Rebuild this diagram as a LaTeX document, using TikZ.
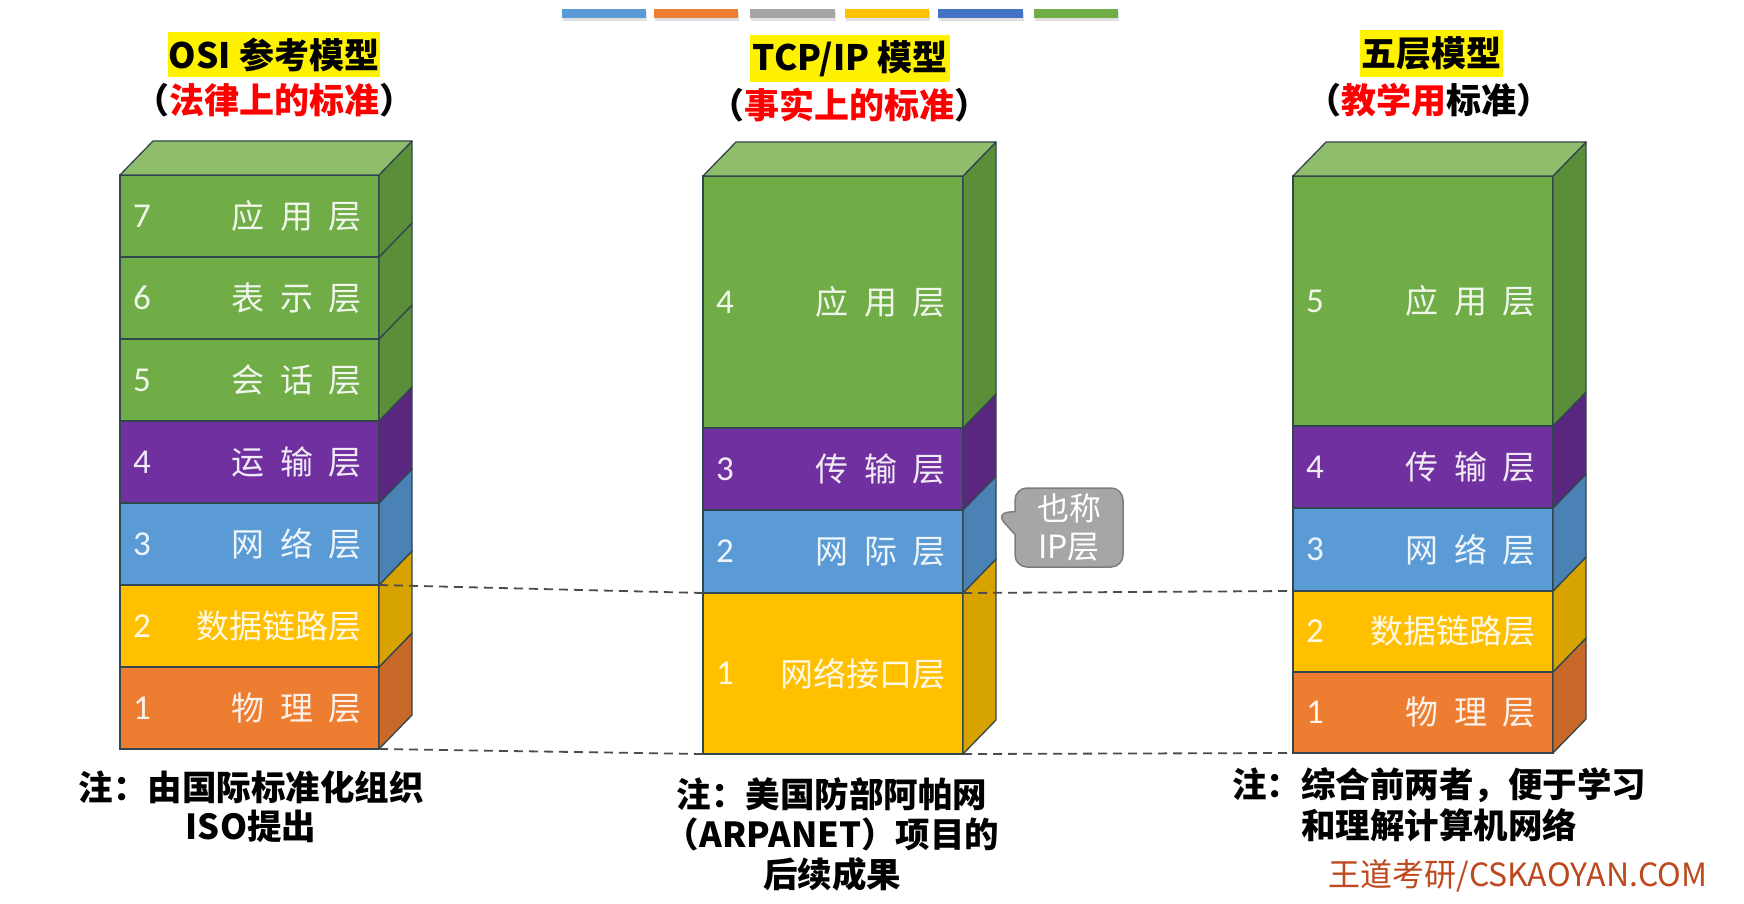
\documentclass[tikz,border=0pt]{standalone}
\usepackage{fontspec}
\setmainfont{Noto Sans CJK SC}
\newfontfamily\numfont{Carlito}
\usetikzlibrary{shapes.callouts}
\definecolor{gF}{HTML}{70AD47}\definecolor{gT}{HTML}{8FBD6B}\definecolor{gS}{HTML}{5B8E38}
\definecolor{pF}{HTML}{7030A0}\definecolor{pS}{HTML}{5A2680}
\definecolor{bF}{HTML}{5B9BD5}\definecolor{bS}{HTML}{4A82B5}
\definecolor{yF}{HTML}{FFC000}\definecolor{yS}{HTML}{D6A300}
\definecolor{oF}{HTML}{ED7D31}\definecolor{oS}{HTML}{C8692A}
\definecolor{edgec}{RGB}{50,70,80}
\definecolor{barA}{HTML}{5B9BD5}\definecolor{barB}{HTML}{ED7D31}\definecolor{barC}{HTML}{A5A5A5}
\definecolor{barD}{HTML}{FFC000}\definecolor{barE}{HTML}{4472C4}\definecolor{barF}{HTML}{70AD47}
\definecolor{calloutF}{RGB}{166,166,166}\definecolor{calloutD}{RGB}{125,125,125}
\definecolor{wm}{RGB}{190,72,30}
\tikzset{
 front/.style={draw=edgec, line width=1.3pt, inner sep=0pt, outer sep=0pt, rectangle},
 sideface/.style={draw=edgec, line width=1.3pt, line join=round},
 numlbl/.style={font=\numfont\fontsize{35}{40}\selectfont, text=white, text opacity=0.9, inner sep=0pt},
 txtlbl/.style={font=\fontsize{33}{40}\selectfont, text=white, text opacity=0.9, inner sep=0pt},
 titlebox/.style={font=\bfseries\fontsize{35}{42}\selectfont, fill=yellow, inner sep=0pt},
 subtitle/.style={font=\bfseries\fontsize{35}{42}\selectfont, inner sep=0pt},
 notetext/.style={font=\bfseries\fontsize{34.5}{39}\selectfont, align=center, inner sep=0pt},
 dashline/.style={draw=black!70, line width=1.8pt, dash pattern=on 9pt off 6pt},
 ipcallout/.style={rectangle callout, fill=calloutF, draw=calloutD, line width=1.5pt,
   rounded corners=12pt, minimum width=108pt, minimum height=79pt, inner sep=0pt,
   align=center, text=white, font=\fontsize{32}{38}\selectfont, callout pointer width=23pt}
}
% #1 name, #2 x left, #3 y top, #4 width, #5 height, #6 front colour, #7 side colour, #8 number, #9 label
\newcommand\lyr[9]{%
 \node[front, fill=#6, minimum width=#4pt, minimum height=#5pt, anchor=north west] (#1) at (#2,#3) {};
 \filldraw[sideface, fill=#7] (#1.north east) -- ([shift={(33,-34)}]#1.north east)
   -- ([shift={(33,-34)}]#1.south east) -- (#1.south east) -- cycle;
 \node[numlbl] (#1n) at ([xshift=22pt]#1.west) {#8};
 \node[txtlbl, anchor=east] (#1t) at ([xshift=-17pt]#1.east) {#9};
}
\newcommand\topface[2]{%
 \filldraw[sideface, fill=#2] (#1.north west) -- ([shift={(33,-34)}]#1.north west)
   -- ([shift={(33,-34)}]#1.north east) -- (#1.north east) -- cycle;
}
\newcommand\lsp{\hspace{15.5pt}}
\begin{document}
\begin{tikzpicture}[x=1pt,y=-1pt]
\useasboundingbox (0,0) rectangle (1744,904);
\fill[white] (0,0) rectangle (1744,904);
% colour bars
\foreach \xa/\xb/\c in {562/646/barA, 654/738/barB, 750/835/barC, 845/929/barD, 938/1023/barE, 1034/1118/barF}{
  \fill[black!12] (\xa+1,12) rectangle (\xb+1,21);
  \fill[\c] (\xa,9) rectangle (\xb,18);
}
% titles
\node[titlebox, minimum width=212pt, minimum height=45pt] (osititle) at (274,54.5) {OSI 参考模型};
\node[subtitle] (osisub) at (274,100) {（\textcolor{red}{法律上的标准}）};
\node[titlebox, minimum width=200pt, minimum height=47pt] (tcptitle) at (850,58.5) {TCP/IP 模型};
\node[subtitle] (tcpsub) at (849,105) {（\textcolor{red}{事实上的标准}）};
\node[titlebox, minimum width=143pt, minimum height=47pt] (fivetitle) at (1431.5,53.5) {五层模型};
\node[subtitle] (fivesub) at (1429,100) {（\textcolor{red}{教学用}标准）};
% OSI stack
\lyr{o1}{120}{667}{259}{82}{oF}{oS}{1}{物\lsp 理\lsp 层}
\lyr{o2}{120}{585}{259}{82}{yF}{yS}{2}{数据链路层}
\lyr{o3}{120}{503}{259}{82}{bF}{bS}{3}{网\lsp 络\lsp 层}
\lyr{o4}{120}{421}{259}{82}{pF}{pS}{4}{运\lsp 输\lsp 层}
\lyr{o5}{120}{339}{259}{82}{gF}{gS}{5}{会\lsp 话\lsp 层}
\lyr{o6}{120}{257}{259}{82}{gF}{gS}{6}{表\lsp 示\lsp 层}
\lyr{o7}{120}{175}{259}{82}{gF}{gS}{7}{应\lsp 用\lsp 层}
\topface{o7}{gT}
% TCP/IP stack
\lyr{t1}{703}{593}{260}{161}{yF}{yS}{1}{网络接口层}
\lyr{t2}{703}{510}{260}{83}{bF}{bS}{2}{网\lsp 际\lsp 层}
\lyr{t3}{703}{428}{260}{82}{pF}{pS}{3}{传\lsp 输\lsp 层}
\lyr{t4}{703}{176}{260}{252}{gF}{gS}{4}{应\lsp 用\lsp 层}
\topface{t4}{gT}
% five-layer stack
\lyr{f1}{1293}{672}{260}{81}{oF}{oS}{1}{物\lsp 理\lsp 层}
\lyr{f2}{1293}{591}{260}{81}{yF}{yS}{2}{数据链路层}
\lyr{f3}{1293}{508}{260}{83}{bF}{bS}{3}{网\lsp 络\lsp 层}
\lyr{f4}{1293}{426}{260}{82}{pF}{pS}{4}{传\lsp 输\lsp 层}
\lyr{f5}{1293}{176}{260}{250}{gF}{gS}{5}{应\lsp 用\lsp 层}
\topface{f5}{gT}
% dashed correspondence lines
\draw[dashline] (o2.north east) -- (t1.north west);
\draw[dashline] (t1.north east) -- (f2.north west);
\draw[dashline] (o1.south east) -- (t1.south west);
\draw[dashline] (t1.south east) -- (f1.south west);
% callout
\coordinate (iptip) at ([shift={(33,-38)}]t2.east);
\node[ipcallout, callout absolute pointer={(iptip)}] (ipnote) at (1069,527.5) {也称\\IP层};
% notes
\node[notetext] (osinote) at (251,807) {注：由国际标准化组织\\ISO提出};
\node[notetext, font=\bfseries\fontsize{34.5}{40}\selectfont] (tcpnote) at (832,834) {注：美国防部阿帕网\\（ARPANET）项目的\\后续成果};
\node[notetext, font=\bfseries\fontsize{34.5}{41}\selectfont] (fivenote) at (1439,805) {注：综合前两者，便于学习\\和理解计算机网络};
\node[inner sep=0pt, text=wm, font=\fontsize{32}{38}\selectfont] (wmark) at (1518,876) {王道考研/CSKAOYAN.COM};
\end{tikzpicture}
\end{document}
